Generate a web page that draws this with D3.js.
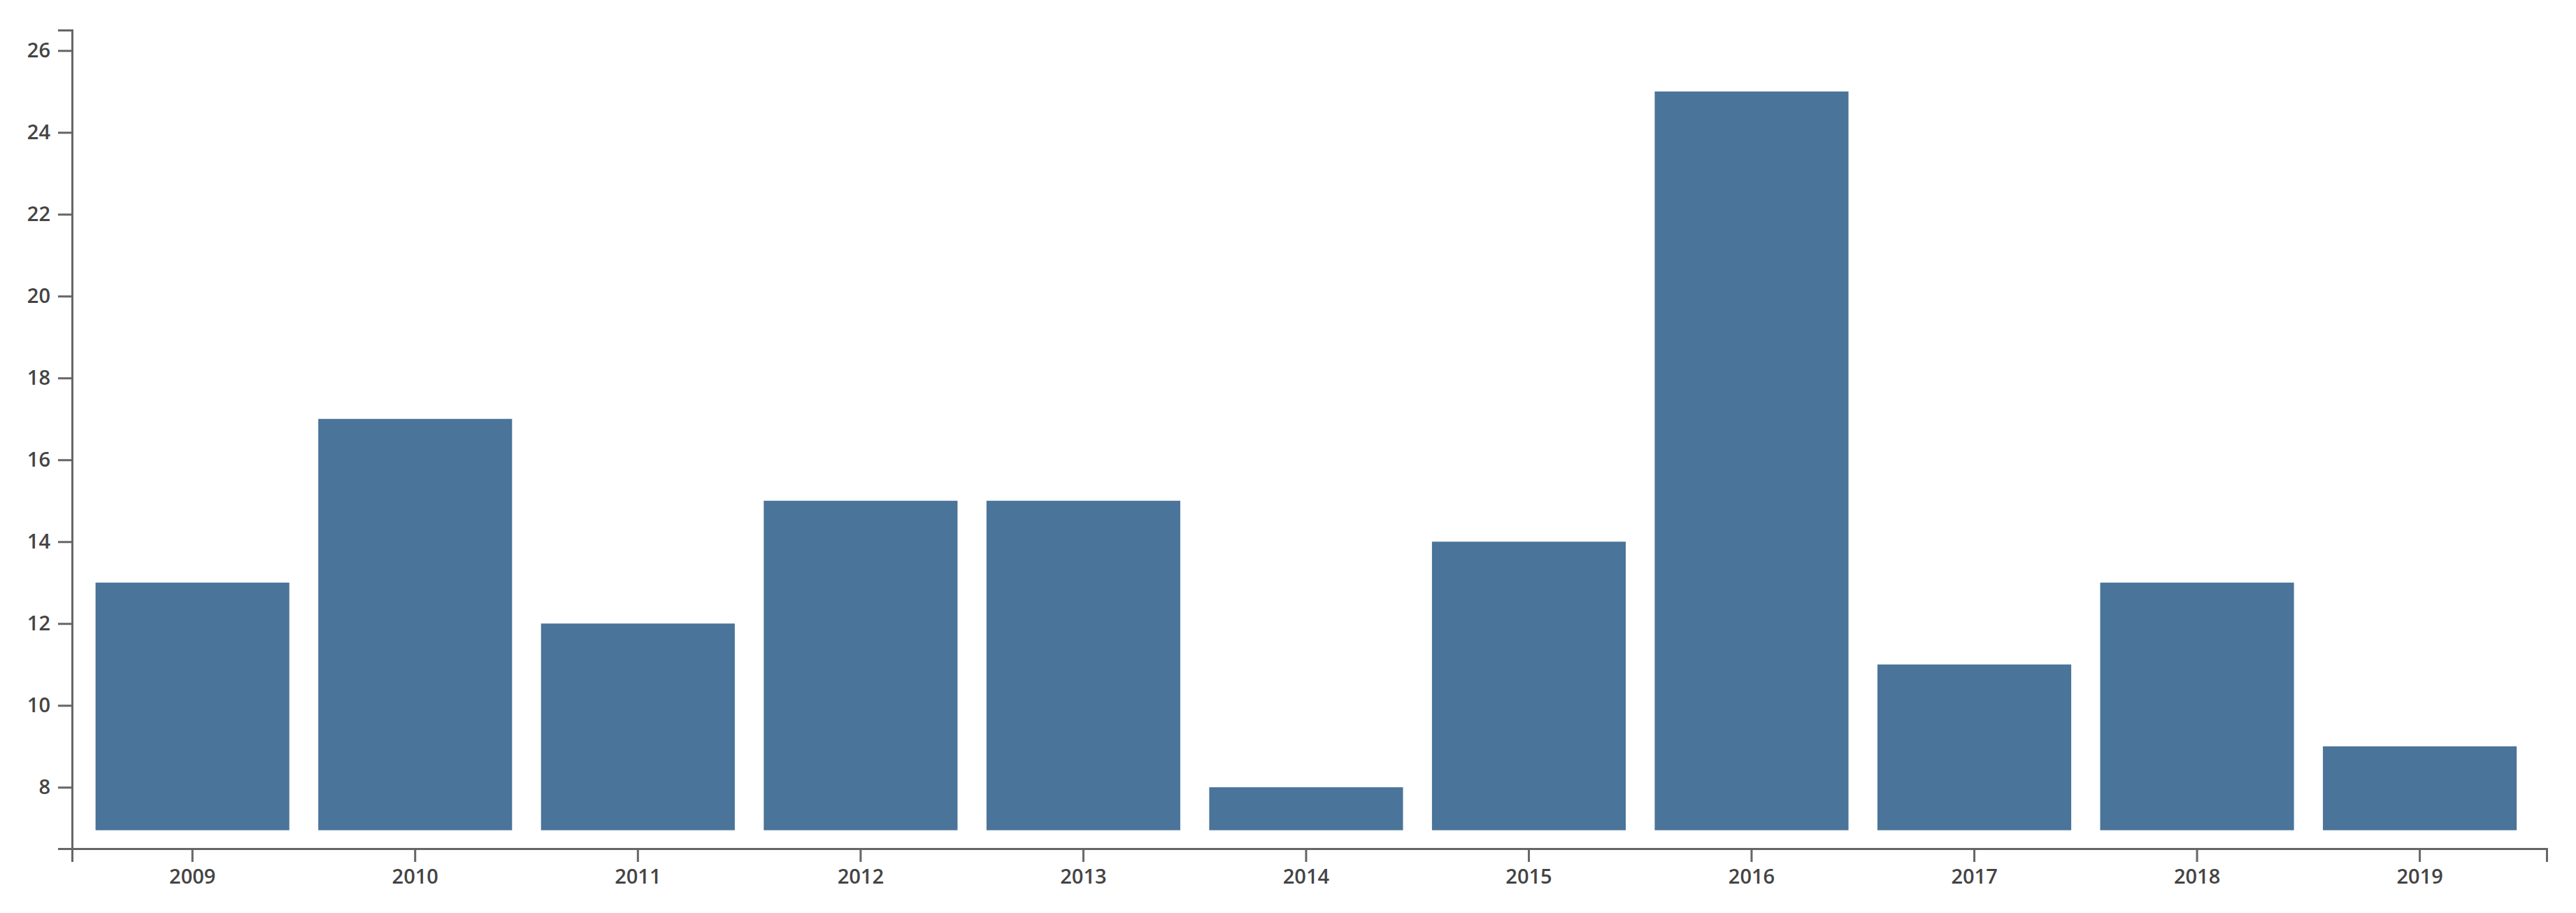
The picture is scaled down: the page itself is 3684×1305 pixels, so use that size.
<!DOCTYPE html>
<html>
<head>
<meta charset="utf-8">
<script src="https://cdn.jsdelivr.net/npm/d3@7"></script>
<style>
  body { margin: 0; background: #fff; }
  .axis text { font-family: "Open Sans", sans-serif; font-size: 29px; font-weight: 600; fill: #444; }
  .axis path, .axis line { stroke: #666; stroke-width: 3; }
</style>
</head>
<body>
<div id="chart"></div>
<script>
// Data
var years = ["2009", "2010", "2011", "2012", "2013", "2014", "2015", "2016", "2017", "2018", "2019"];
var counts = [13, 17, 12, 15, 15, 8, 14, 25, 11, 13, 9];
var yTicks = [8, 10, 12, 14, 16, 18, 20, 22, 24, 26];
var yDomain = [6.5, 26.5];
var barBase = 6.95; // bars stop a little above the x axis

var width = 3684;
var height = 1305;
var margin = { top: 43, right: 42, bottom: 92, left: 103 };
var innerW = width - margin.left - margin.right;
var innerH = height - margin.top - margin.bottom;

var svg = d3.select("#chart")
  .append("svg")
  .attr("width", width)
  .attr("height", height);

var g = svg.append("g")
  .attr("transform", "translate(" + margin.left + "," + margin.top + ")");

var x = d3.scaleBand()
  .domain(years)
  .range([0, innerW])
  .paddingInner(0.13)
  .paddingOuter(0.12)
  .align(0.44);

var y = d3.scaleLinear()
  .domain(yDomain)
  .range([innerH, 0]);

// bars
g.selectAll("rect.bar")
  .data(years)
  .enter()
  .append("rect")
  .attr("class", "bar")
  .attr("x", function(d) { return x(d); })
  .attr("width", x.bandwidth())
  .attr("y", function(d, i) { return y(counts[i]); })
  .attr("height", function(d, i) { return y(barBase) - y(counts[i]); })
  .style("fill", "#4a7499");

// axes
g.append("g")
  .attr("class", "axis")
  .attr("transform", "translate(0," + innerH + ")")
  .call(d3.axisBottom(x).tickSize(19).tickPadding(10));

g.append("g")
  .attr("class", "axis")
  .call(d3.axisLeft(y).tickValues(yTicks).tickSize(20).tickPadding(11));
</script>
</body>
</html>
